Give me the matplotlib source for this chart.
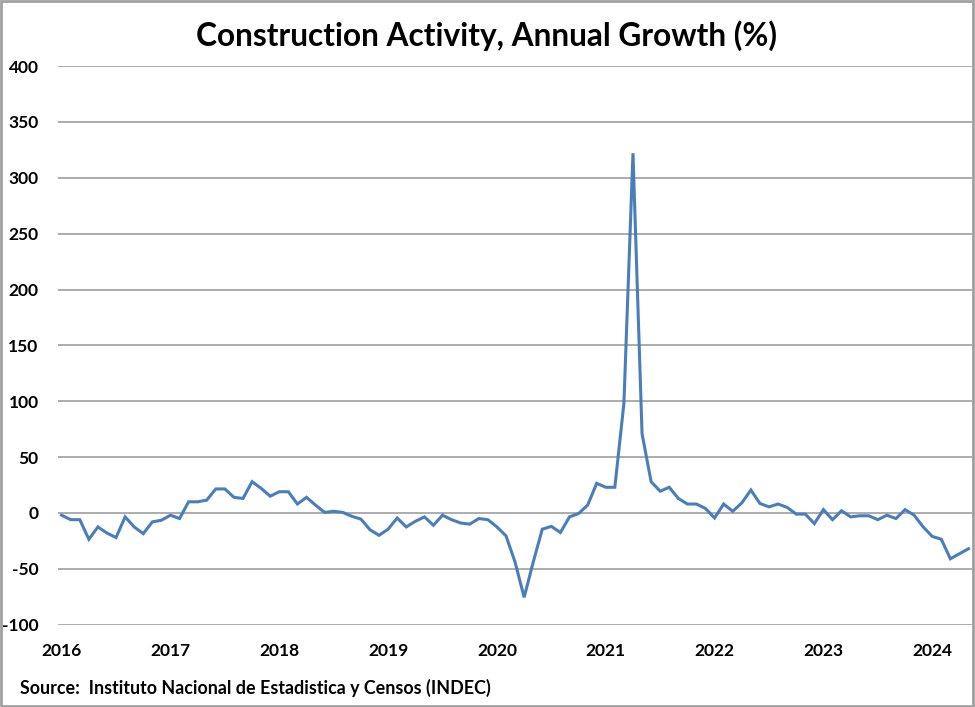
import numpy as np
import matplotlib
matplotlib.use('Agg')
import matplotlib.pyplot as plt
from matplotlib.patches import Rectangle

# monthly annual growth of construction activity (%), Jan 2016 - May 2024
growth = [
    -2, -6, -6, -23.5, -12.5, -18, -22, -3.5, -12.5, -18.5, -8, -6.5,      # 2016
    -2, -5, 10, 10, 11.5, 21.5, 21.5, 14, 13, 28, 22, 15,                  # 2017
    19, 19, 8, 14, 7, 0.5, 1.5, 0.5, -3, -5.5, -15, -20,                   # 2018
    -14.5, -4.5, -12.5, -7.5, -3.5, -11, -2, -6, -9, -10, -5, -6,          # 2019
    -12.5, -20.5, -44, -75.5, -44, -14.5, -12, -17.5, -3.5, -0.5, 7, 26.5, # 2020
    23, 23, 98, 322, 71, 28, 19.5, 23, 13, 8, 8, 4,                        # 2021
    -4.5, 8, 1.5, 9, 20.5, 8.5, 5.5, 8, 5, -1, -1, -9.5,                   # 2022
    3, -6, 2, -3.5, -2.5, -2.5, -6, -2, -5, 3, -2, -12.5,                  # 2023
    -21, -23.5, -41, -36.5, -32,                                           # 2024
]
years = ['2016', '2017', '2018', '2019', '2020', '2021', '2022', '2023', '2024']
yticks = [-100, -50, 0, 50, 100, 150, 200, 250, 300, 350, 400]

plt.rcParams['font.family'] = ['Lato', 'DejaVu Sans']
plt.rcParams['font.weight'] = 'bold'

fig = plt.figure(figsize=(9.75, 7.07), dpi=100)
ax = fig.add_axes([0.0595, 0.1164, 0.9385, 0.7902])

x = np.arange(len(growth))
ax.plot(x, growth, color='#4A7EBB', lw=2.2, solid_joinstyle='miter', zorder=3)

ax.set_ylim(-100, 400)
ax.set_xlim(-0.4, 100.5)
ax.set_yticks(yticks)
ax.set_yticklabels([str(v) for v in yticks], fontsize=12.5, fontweight='bold')
ax.set_xticks(np.arange(len(years)) * 12)
ax.set_xticklabels(years, fontsize=12.5, fontweight='bold')
ax.tick_params(axis='both', length=0)
ax.tick_params(axis='y', pad=14)
ax.tick_params(axis='x', pad=13)
ax.grid(axis='y', color='#A6A6A6', lw=1.3)
ax.grid(axis='x', visible=False)
for s in ax.spines.values():
    s.set_visible(False)

fig.text(0.499, 0.949, 'Construction Activity, Annual Growth (%)',
         ha='center', va='center', fontsize=22.8, fontweight='bold')
fig.text(0.021, 0.027, 'Source:  Instituto Nacional de Estadistica y Censos (INDEC)',
         ha='left', va='center', fontsize=12.9, fontweight='bold')

# grey frame round the whole picture
fig.patches.append(Rectangle((0.001, 0.0015), 0.997, 0.997, transform=fig.transFigure,
                             fill=False, edgecolor='#A0A0A0', lw=2))

fig.savefig('out.png', dpi=100)
